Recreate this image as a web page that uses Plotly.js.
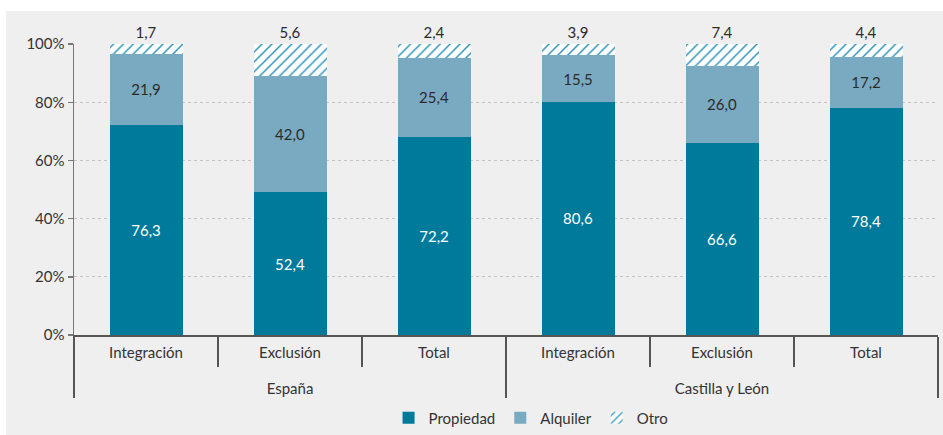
<!DOCTYPE html>
<html><head><meta charset="utf-8">
<script src="https://cdn.plot.ly/plotly-3.0.1.min.js"></script>
<style>
html,body{margin:0;padding:0;background:#fff;}
#chart{position:absolute;left:6px;top:11px;width:937px;height:424px;}
</style></head>
<body><div id="chart"></div>
<script>
const regions = ['España','España','España','Castilla y León','Castilla y León','Castilla y León'];
const groups = ['Integración','Exclusión','Total','Integración','Exclusión','Total'];
// bar heights as drawn in the picture (%)
const propiedad = [72.3, 49.0, 68.2, 80.2, 66.1, 78.2];
const alquiler = [24.3, 40.2, 27.2, 15.9, 26.5, 17.4];
const otro = [3.4, 10.8, 4.6, 3.9, 7.4, 4.4];
// value labels printed on the picture
const propiedadLabels = ['76,3','52,4','72,2','80,6','66,6','78,4'];
const alquilerLabels = ['21,9','42,0','25,4','15,5','26,0','17,2'];
const otroLabels = ['1,7','5,6','2,4','3,9','7,4','4,4'];
const yTicks = [0, 20, 40, 60, 80, 100];
const yTickLabels = ['0%','20%','40%','60%','80%','100%'];

const fontFam = 'Lato, "Open Sans", sans-serif';
const outerLabels = regions.map(r => '<br>' + r);
const x = [outerLabels, groups];
const common = {type:'bar', x:x, texttemplate:'%{text}', textangle:0, constraintext:'none', hoverinfo:'skip', cliponaxis:false};

const data = [
  Object.assign({}, common, {name:'Propiedad', y:propiedad, text:propiedadLabels, marker:{color:'#007a9a'},
    textposition:'inside', insidetextanchor:'middle', textfont:{color:'#ffffff', size:15, family:fontFam}}),
  Object.assign({}, common, {name:'Alquiler', y:alquiler, text:alquilerLabels, marker:{color:'#79aac2'},
    textposition:'inside', insidetextanchor:'middle', textfont:{color:'#2b2b2b', size:15, family:fontFam}}),
  Object.assign({}, common, {name:'Otro', y:otro, text:otroLabels,
    marker:{color:'#ffffff', pattern:{shape:'/', fgcolor:'#3196bd', bgcolor:'#ffffff', size:7, solidity:0.22}},
    textposition:'outside', textfont:{color:'#2b2b2b', size:15, family:fontFam}})
];

const layout = {
  barmode:'stack',
  bargap:0.493,
  paper_bgcolor:'#efefef',
  plot_bgcolor:'#efefef',
  margin:{l:68, r:5, t:33, b:100},
  font:{family:fontFam, color:'#333', size:15},
  showlegend:true,
  legend:{orientation:'h', xref:'paper', x:0.529, xanchor:'center', yref:'container', y:0.04, yanchor:'middle',
    font:{size:15, color:'#333'}, itemwidth:30, traceorder:'normal'},
  xaxis:{type:'multicategory', showline:true, linecolor:'#555', linewidth:1.5,
    ticks:'outside', ticklen:30, tickcolor:'#555', tickwidth:1.5, ticklabelstandoff:3,
    showdividers:true, dividercolor:'#555', dividerwidth:1.5,
    tickfont:{size:15, color:'#333'}, showgrid:false},
  yaxis:{range:[0,100.05], tickmode:'array', tickvals:yTicks, ticktext:yTickLabels, showline:true, linecolor:'#777', linewidth:1.5,
    ticks:'outside', ticklen:5, tickcolor:'#777', tickwidth:1.5,
    showgrid:true, gridcolor:'#c4c4c4', griddash:'dot', gridwidth:1,
    zeroline:false, tickfont:{size:15, color:'#333'}}
};

Plotly.newPlot('chart', data, layout, {displayModeBar:false, staticPlot:true});
</script></body></html>
